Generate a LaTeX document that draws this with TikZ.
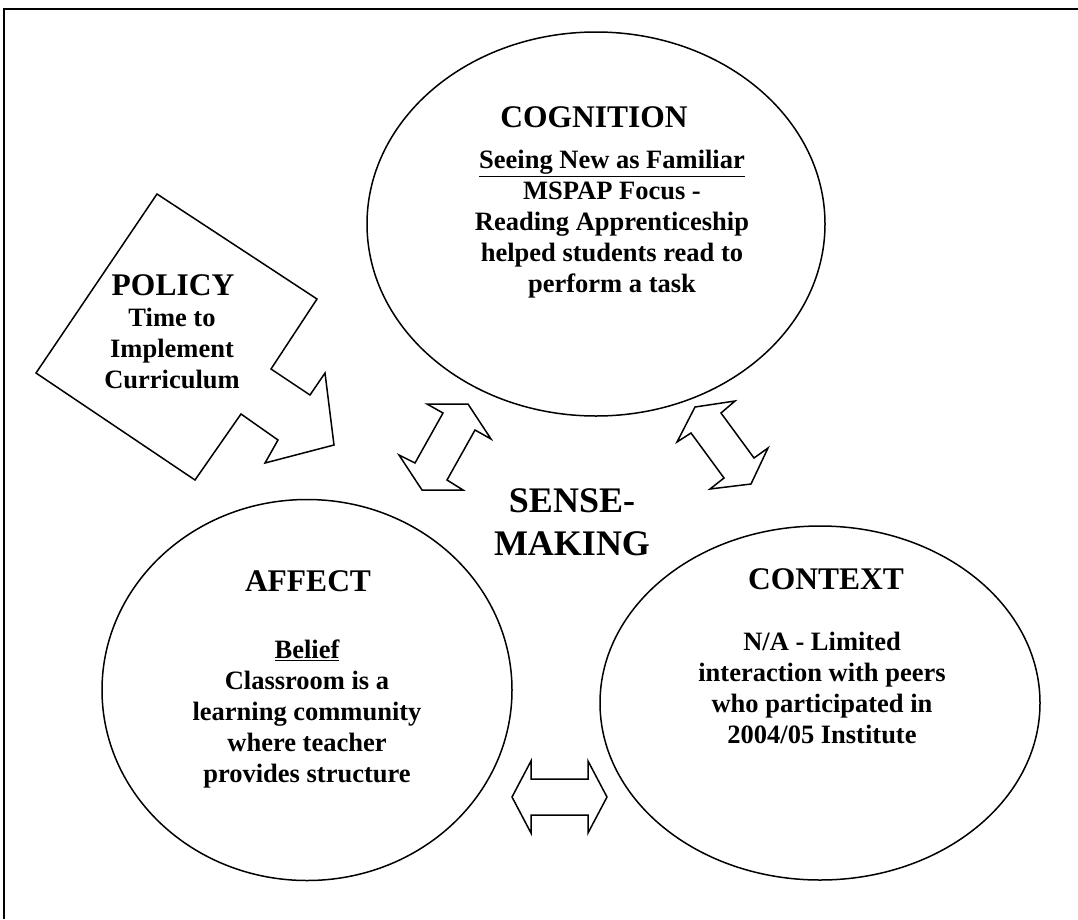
\documentclass[tikz,border=0pt]{standalone}
\usepackage{fontspec}
\setmainfont{Liberation Serif}
\usetikzlibrary{shapes.geometric}

\begin{document}
\begin{tikzpicture}[x=1pt, y=-1pt,
  oval/.style = {draw, ellipse, line width=1.5pt, inner sep=0pt},
  heading/.style = {font=\bfseries\fontsize{31.5}{38}\selectfont, inner sep=0pt, anchor=base},
  body/.style = {font=\bfseries\fontsize{26.5}{30.8}\selectfont, align=center, inner sep=0pt, anchor=base},
  blockarrow/.style = {draw, line width=1.5pt, line join=miter, fill=white}]
\useasboundingbox (0,0) rectangle (1078,919);
% frame
\draw[line width=1.6pt] (4,919) -- (4,9) -- (1078,9);

% the three circles
\node[oval, minimum width=458pt, minimum height=384pt] (cog) at (596,224) {};
\node[oval, minimum width=410pt, minimum height=381pt] (aff) at (307,690) {};
\node[oval, minimum width=440pt, minimum height=354pt] (ctx) at (820,703) {};

% policy arrow
\draw[blockarrow] (157,194) -- (317,299) -- (271,369) -- (310,395) -- (325,373)
  -- (334,445) -- (265,463) -- (278,440) -- (241,414) -- (195,480) -- (36,373) -- cycle;

% double arrows
\draw[blockarrow] (427,404) -- (468,404) -- (491,439) -- (475,430) -- (447,480)
  -- (463,490) -- (422,490) -- (399,455) -- (415,463) -- (443,413) -- cycle;
\draw[blockarrow] (695,407) -- (735,401) -- (721,413) -- (754,458) -- (768,448)
  -- (751,484) -- (710,489) -- (724,478) -- (691,433) -- (677,442) -- cycle;
\draw[blockarrow] (512,797) -- (531,761) -- (531,779) -- (588,779) -- (588,761)
  -- (607,797) -- (588,833) -- (588,815) -- (531,815) -- (531,833) -- cycle;

% texts (multi-line nodes sit on their last baseline)
\node[heading] (cogtitle) at (594,127) {COGNITION};
\node[body] (cogtext) at (612,292) {\underline{Seeing New as Familiar}\\MSPAP Focus -\\Reading Apprenticeship\\helped students read to\\perform a task};

\node[heading] (poltitle) at (173,295) {POLICY};
\node[body] (poltext) at (172,388) {Time to\\Implement\\Curriculum};

\node[body, font=\bfseries\fontsize{36}{43}\selectfont] (sense) at (572,555) {SENSE-\\MAKING};

\node[heading] (afftitle) at (308,591) {AFFECT};
\node[body] (afftext) at (307,782) {\underline{Belief}\\Classroom is a\\learning community\\where teacher\\provides structure};

\node[heading] (ctxtitle) at (826,589) {CONTEXT};
\node[body] (ctxtext) at (822,743) {N/A - Limited\\interaction with peers\\who participated in\\2004/05 Institute};
\end{tikzpicture}
\end{document}
